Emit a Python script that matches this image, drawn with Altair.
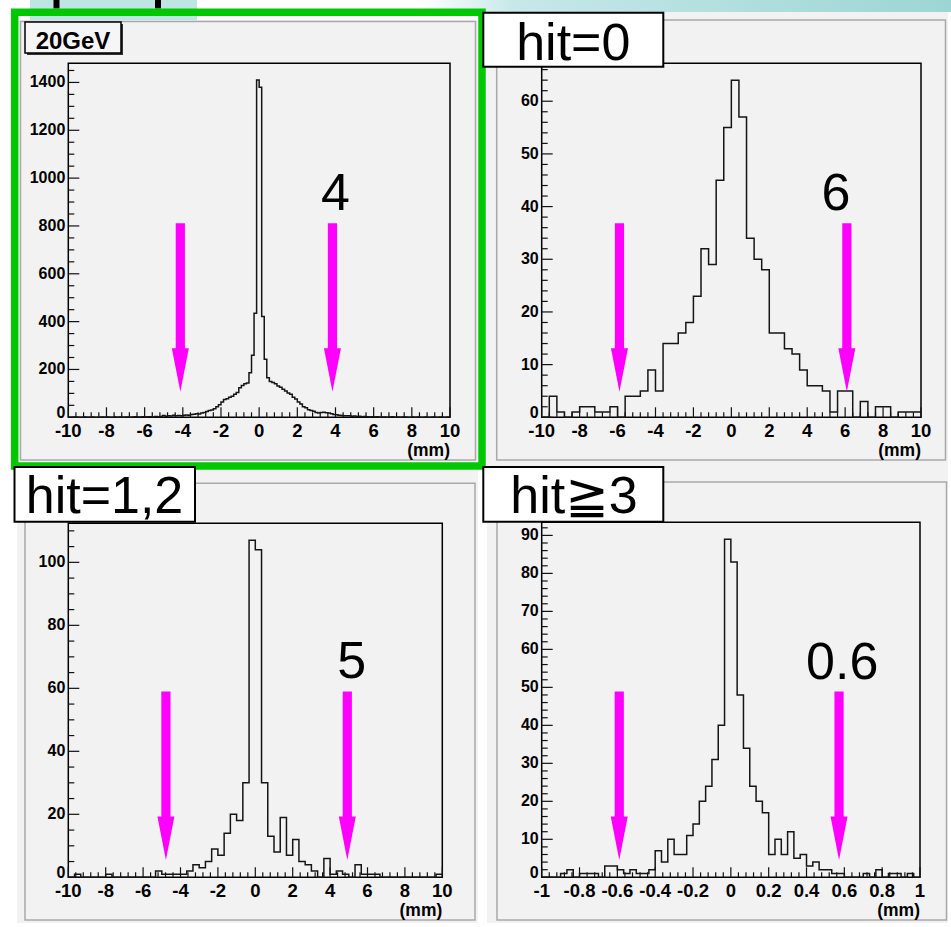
import altair as alt
import pandas as pd

FONT = "Liberation Sans, Arial, Helvetica, sans-serif"
SYM_FONT = "Liberation Sans, DejaVu Sans, Noto Sans CJK JP, sans-serif"
W, H = 951, 927

# ---------------- data ----------------
# Panel 1 : 20GeV (150 bins, -10..10 mm)
p1_counts = [0, 0, 1, 0, 0, 0, 1, 0, 0, 1, 0, 0, 0, 1, 0, 1, 0, 0, 1, 0,
             1, 0, 1, 1, 0, 1, 2, 1, 1, 2,
             1, 2, 2, 1, 3, 2, 3,
             8, 4, 7, 5, 9, 6, 8, 7,
             9, 10, 9, 12, 13, 15, 14, 18, 20, 24, 28, 31, 36, 44, 52,
             64, 74, 78, 84, 88, 96, 104, 124, 133, 140, 143, 186, 259, 435,
             1410, 1380, 421, 243, 165,
             150, 146, 140, 131, 126, 117, 110, 102, 96, 84, 76, 64, 56, 44, 40, 32, 28, 25, 20, 18,
             20, 21, 19, 18, 15, 12, 11, 9, 8, 7, 6, 6, 4,
             5, 3, 4, 2, 3, 2, 1, 2, 1, 2, 0, 1, 1, 0, 1, 2, 0, 1, 0, 1,
             1, 0, 0, 1, 0, 1, 0, 0, 1, 0, 0, 1, 0, 0, 1, 0, 0, 1]
# Panel 2 : hit=0 (50 bins)
p2_counts = [0, 4, 1, 0, 1, 2, 2, 1, 1, 2, 0, 4, 4, 5, 9, 5, 14, 14, 16, 18,
             23, 32, 29, 45, 55, 64, 57, 34, 30, 28, 16, 16, 13, 12, 9, 6, 6, 5, 1, 5,
             5, 0, 3, 0, 2, 2, 0, 1, 1, 1]
# Panel 3 : hit=1,2 (60 bins)
p3_counts = [0, 1, 0, 0, 0, 0, 1, 0, 0, 0, 0, 0, 0, 0, 2, 1, 1, 1, 1, 2,
             4, 3, 5, 9, 7, 14, 20, 18, 30, 107, 104, 30, 13, 8, 19, 7, 12, 5, 4, 2,
             0, 6, 1, 2, 1, 0, 4, 1, 1, 1, 0, 0, 0, 0, 0, 0, 0, 0, 0, 1]
# Panel 4 : hit>=3 (60 bins, -1..1 mm)
p4_counts = [0, 0, 0, 1, 2, 0, 1, 1, 1, 0, 3, 3, 2, 1, 2, 1, 1, 2, 7, 4,
             10, 6, 6, 11, 14, 20, 24, 31, 40, 89, 83, 48, 34, 24, 20, 17, 6, 10, 6, 12,
             5, 6, 3, 4, 2, 2, 1, 1, 0, 0, 0, 1, 0, 2, 0, 1, 1, 0, 1, 0]

xlab_wide = [-10, -8, -6, -4, -2, 0, 2, 4, 6, 8, 10]
xlab_wide_txt = ["-10", "-8", "-6", "-4", "-2", "0", "2", "4", "6", "8", "10"]
xlab_narrow = [-1, -0.8, -0.6, -0.4, -0.2, 0, 0.2, 0.4, 0.6, 0.8, 1]
xlab_narrow_txt = ["-1", "-0.8", "-0.6", "-0.4", "-0.2", "0", "0.2", "0.4", "0.6", "0.8", "1"]
p1_ylab = [0, 200, 400, 600, 800, 1000, 1200, 1400]
p2_ylab = [0, 10, 20, 30, 40, 50, 60]
p3_ylab = [0, 20, 40, 60, 80, 100]
p4_ylab = [0, 10, 20, 30, 40, 50, 60, 70, 80, 90]
x_title = "(mm)"

p1_ymax, p2_ymax, p3_ymax, p4_ymax = 1480, 67.2, 112.4, 93.45

p1_arrows, p1_tip = [-4.13, 3.84], 107
p2_arrows, p2_tip = [-5.9, 6.09], 4.87
p3_arrows, p3_tip = [-4.78, 4.92], 5.5
p4_arrows, p4_tip = [-0.59, 0.572], 4.55

p1_note = ("4", 4.0, 867)
p2_note = ("6", 5.51, 39.4)
p3_note = ("5", 5.16, 63.2)
p4_note = ("0.6", 0.589, 52.1)

titles = ["20GeV", "hit=0", "hit=1,2", "hit\u22673"]

# arrow glyph (tip at origin), scaled by sqrt(size)/2 = 10 px
ARROW = ("M0,0 L-0.85,-4.35 L-0.46,-4.35 L-0.46,-16.85 L0.46,-16.85 "
         "L0.46,-4.35 L0.85,-4.35 Z")

ONE = pd.DataFrame({"k": [0]})


def minor(lo, step, n, every):
    return [round(lo + step * i, 6) for i in range(n) if i % every != 0]


def panel(counts, xlim, ymax, xr, yr, xlabels, xtxt, ylabels,
          xminor, yminor, arrows, tip, note):
    n = len(counts)
    bw = (xlim[1] - xlim[0]) / n
    edges = [xlim[0] + i * bw for i in range(n + 1)]
    hist = pd.DataFrame({"x": edges, "y": list(counts) + [counts[-1]]})
    xs = alt.Scale(domain=xlim, range=xr, nice=False, zero=False)
    ys = alt.Scale(domain=[0, ymax], range=yr, nice=False, zero=False)

    def X(f):
        return alt.X(f, scale=xs, axis=None)

    def Y(f):
        return alt.Y(f, scale=ys, axis=None)

    frame_df = pd.DataFrame({"x0": [xlim[0]], "x1": [xlim[1]], "y0": [0], "y1": [ymax]})
    frame = alt.Chart(frame_df).mark_rect(fillOpacity=0, stroke="black", strokeWidth=1.5).encode(
        x=X("x0:Q"), x2="x1", y=Y("y0:Q"), y2="y1")

    def xticks(vals, length):
        df = pd.DataFrame({"v": vals, "y0": [0] * len(vals)})
        return alt.Chart(df).mark_tick(orient="vertical", size=length, thickness=1.2,
                                       yOffset=-length / 2, color="#111111", opacity=1).encode(
            x=X("v:Q"), y=Y("y0:Q"))

    def yticks(vals, length):
        df = pd.DataFrame({"v": vals, "x0": [xlim[0]] * len(vals)})
        return alt.Chart(df).mark_tick(orient="horizontal", size=length, thickness=1.2,
                                       xOffset=length / 2, color="#111111", opacity=1).encode(
            x=X("x0:Q"), y=Y("v:Q"))

    xl_df = pd.DataFrame({"v": xlabels, "t": xtxt, "y0": [0] * len(xlabels)})
    xl = alt.Chart(xl_df).mark_text(font=FONT, fontSize=18.5, fontWeight="bold", color="black",
                                    align="center", baseline="top", dy=5).encode(
        x=X("v:Q"), y=Y("y0:Q"), text="t:N")
    # the "0" label sits just above the x labels, as in ROOT's layout
    yl0_df = pd.DataFrame({"v": ylabels[:1], "t": [str(v) for v in ylabels[:1]],
                           "x0": [xlim[0]]})
    yl0 = alt.Chart(yl0_df).mark_text(font=FONT, fontSize=16, fontWeight="bold", color="black",
                                      align="right", baseline="middle", dx=-3, dy=-4).encode(
        x=X("x0:Q"), y=Y("v:Q"), text="t:N")
    yl_df = pd.DataFrame({"v": ylabels[1:], "t": [str(v) for v in ylabels[1:]],
                          "x0": [xlim[0]] * (len(ylabels) - 1)})
    yl = alt.Chart(yl_df).mark_text(font=FONT, fontSize=16, fontWeight="bold", color="black",
                                    align="right", baseline="middle", dx=-3).encode(
        x=X("x0:Q"), y=Y("v:Q"), text="t:N")
    tt_df = pd.DataFrame({"x": [xlim[1]], "y": [0], "t": [x_title]})
    tt = alt.Chart(tt_df).mark_text(font=FONT, fontSize=17.5, fontWeight="bold", color="black",
                                    align="right", baseline="top", dy=24.8).encode(
        x=X("x:Q"), y=Y("y:Q"), text="t:N")

    line = alt.Chart(hist).mark_line(interpolate="step-after", color="#151515",
                                     strokeWidth=1.5).encode(x=X("x:Q"), y=Y("y:Q"))

    adf = pd.DataFrame({"x": arrows, "y": [tip] * len(arrows)})
    arr = alt.Chart(adf).mark_point(shape=ARROW, size=400, filled=True, color="#ff00ff",
                                    opacity=1, strokeWidth=0).encode(x=X("x:Q"), y=Y("y:Q"))

    tdf = pd.DataFrame({"x": [note[1]], "y": [note[2]], "t": [note[0]]})
    txt = alt.Chart(tdf).mark_text(font=FONT, fontSize=52, color="black",
                                   baseline="alphabetic", align="center").encode(
        x=X("x:Q"), y=Y("y:Q"), text="t:N")

    return alt.layer(frame, xticks(xlabels, 10), xticks(xminor, 5),
                     yticks(ylabels, 11), yticks(yminor, 6), line, arr, txt,
                     xl, yl0, yl, tt)


def rect(x, x2, y, y2, **kw):
    return alt.Chart(ONE).mark_rect(**kw).encode(
        x=alt.value(x), x2=alt.value(x2), y=alt.value(y), y2=alt.value(y2))


def label(text, x, y, size, font=FONT, weight="normal"):
    return alt.Chart(ONE).mark_text(text=text, font=font, fontSize=size, fontWeight=weight,
                                    color="black", align="center", baseline="alphabetic").encode(
        x=alt.value(x), y=alt.value(y))


PAD = "#f2f2f2"
BEVEL = "#a9a9a9"
swoosh = alt.Gradient(gradient="linear", x1=0, x2=1, y1=0, y2=0,
                      stops=[alt.GradientStop(color="#ffffff", offset=0),
                             alt.GradientStop(color="#c6e8e8", offset=0.18),
                             alt.GradientStop(color="#9dd5d5", offset=1)])

under = [
    rect(30, 197, 0, 20, color="#bfe4e4"),
    rect(53.5, 59.5, 0, 8.5, color="black"),
    rect(155, 161, 0, 8.5, color="black"),
    rect(420, 951, 0, 12, fill=swoosh),
    rect(18.5, 478, 20, 462, color=PAD),
    rect(487, 948, 12, 467, color=PAD),
    rect(17, 478, 470, 923, color=PAD),
    rect(487, 948, 467, 923, color=PAD),
    rect(20.5, 475.5, 21.5, 460, fillOpacity=0, stroke=BEVEL, strokeWidth=1.5),
    rect(496.7, 945.5, 20, 460, fillOpacity=0, stroke=BEVEL, strokeWidth=1.5),
    rect(25, 475, 483.3, 920, fillOpacity=0, stroke=BEVEL, strokeWidth=1.5),
    rect(497, 946.5, 482, 920, fillOpacity=0, stroke=BEVEL, strokeWidth=1.5),
    rect(14.7, 482, 12.2, 466, fillOpacity=0, stroke="#00c800", strokeWidth=7.5),
]

p1 = panel(p1_counts, [-10, 10], p1_ymax, [68.3, 450], [417.3, 63.3],
           xlab_wide, xlab_wide_txt, p1_ylab, minor(-10, 0.4, 51, 5), minor(0, 50, 30, 4),
           p1_arrows, p1_tip, p1_note)
p2 = panel(p2_counts, [-10, 10], p2_ymax, [541.7, 921], [417.3, 63.3],
           xlab_wide, xlab_wide_txt, p2_ylab, minor(-10, 0.4, 51, 5), minor(0, 2, 34, 5),
           p2_arrows, p2_tip, p2_note)
p3 = panel(p3_counts, [-10, 10], p3_ymax, [68.3, 442.3], [877.3, 523.3],
           xlab_wide, xlab_wide_txt, p3_ylab, minor(-10, 0.4, 51, 5), minor(0, 5, 23, 4),
           p3_arrows, p3_tip, p3_note)
p4 = panel(p4_counts, [-1, 1], p4_ymax, [541.7, 920], [877.3, 522.3],
           xlab_narrow, xlab_narrow_txt, p4_ylab, minor(-1, 0.04, 51, 5), minor(0, 2, 47, 5),
           p4_arrows, p4_tip, p4_note)

over = [
    rect(27, 123, 24, 55, color="#333333"),
    rect(25, 121, 22, 53, color="#f6f6f6", stroke="black", strokeWidth=1.5),
    label(titles[0], 73, 48.5, 24, weight="bold"),
    rect(483.3, 663.3, 12.7, 66.7, color="white", stroke="black", strokeWidth=2),
    label(titles[1], 573.3, 60, 52),
    rect(14.5, 195, 467, 521.7, color="white", stroke="black", strokeWidth=2),
    label(titles[2], 104.5, 513.3, 52),
    rect(483.3, 663.3, 467, 521.7, color="white", stroke="black", strokeWidth=2),
    label(titles[3], 574, 513.3, 52, font=SYM_FONT),
]

chart = alt.layer(*under, p1, p2, p3, p4, *over).resolve_scale(
    x="independent", y="independent").properties(
    width=W, height=H, autosize=alt.AutoSizeParams(type="none"), padding=0,
    background="white").configure_view(strokeWidth=0)

chart.save("out.html", embed_options={"renderer": "svg", "actions": False})
